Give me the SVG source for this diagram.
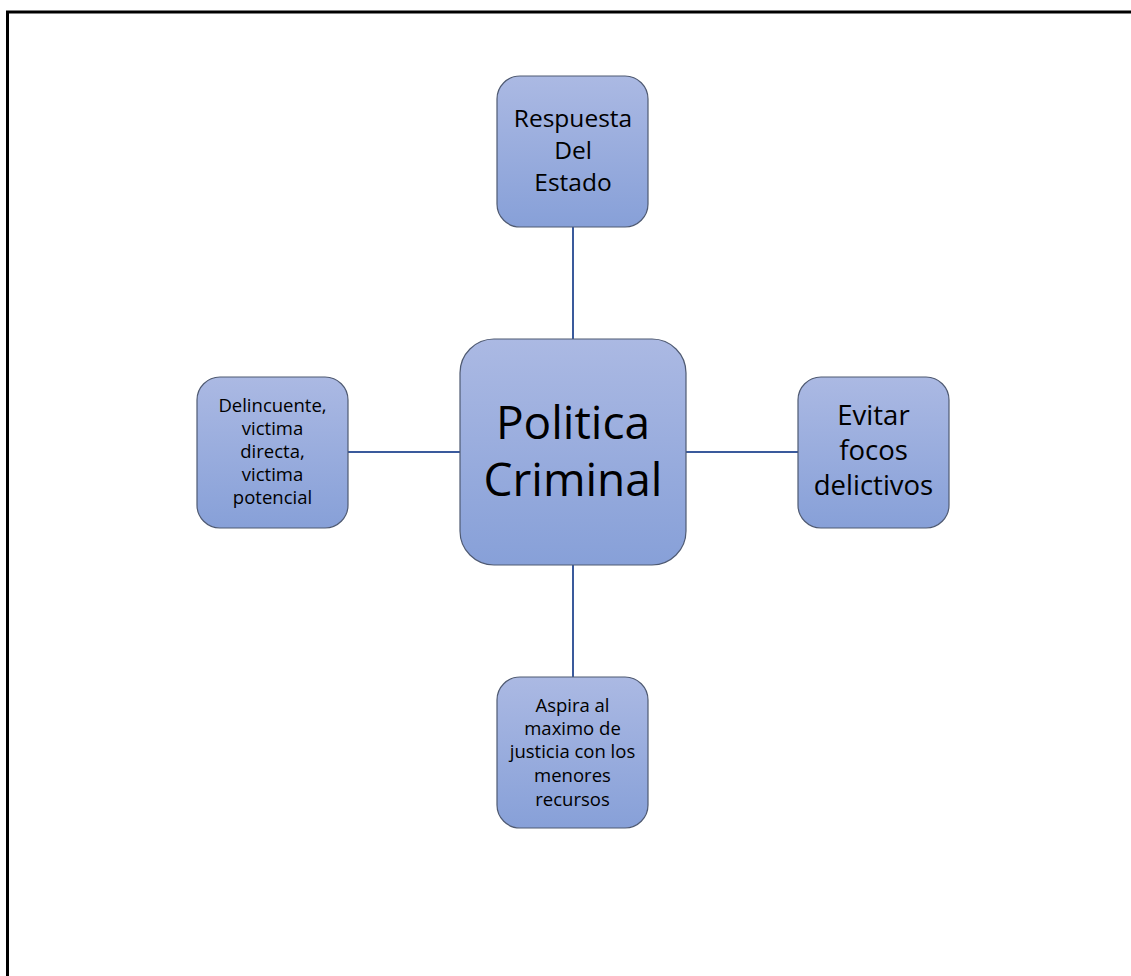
<svg xmlns="http://www.w3.org/2000/svg" width="1131" height="976" viewBox="0 0 1131 976">
  <defs>
    <linearGradient id="g" x1="0" y1="0" x2="0" y2="1">
      <stop offset="0" stop-color="#abb9e3"/>
      <stop offset="1" stop-color="#87a0d8"/>
    </linearGradient>
  </defs>
  <style>
    .box { fill: url(#g); stroke: #4f5a72; stroke-width: 1.2; }
    .t { font-family: "Open Sans", "Liberation Sans", sans-serif; fill: #000; text-anchor: middle; }
    .conn line { stroke: #3a5a9c; stroke-width: 2; }
  </style>
  <rect width="1131" height="976" fill="#fff"/>
  <path d="M7.5 976 V12 H1131" fill="none" stroke="#000" stroke-width="3"/>
  <g id="connectors" class="conn">
    <line x1="573" y1="227" x2="573" y2="339"/>
    <line x1="573" y1="565" x2="573" y2="677"/>
    <line x1="348" y1="452" x2="460" y2="452"/>
    <line x1="686" y1="452" x2="798" y2="452"/>
  </g>
  <g id="center">
    <rect class="box" x="460" y="339" width="226" height="226" rx="34"/>
    <text class="t" font-size="46"><tspan x="573" y="439">Politica</tspan><tspan x="573" y="496">Criminal</tspan></text>
  </g>
  <g id="top">
    <rect class="box" x="497" y="76" width="151" height="151" rx="23"/>
    <text class="t" font-size="24.5"><tspan x="573" y="127">Respuesta</tspan><tspan x="573" y="159">Del</tspan><tspan x="573" y="191">Estado</tspan></text>
  </g>
  <g id="left">
    <rect class="box" x="197" y="377" width="151" height="151" rx="23"/>
    <text class="t" font-size="18.5"><tspan x="272.5" y="412">Delincuente,</tspan><tspan x="272.5" y="435">victima</tspan><tspan x="272.5" y="458">directa,</tspan><tspan x="272.5" y="481">victima</tspan><tspan x="272.5" y="504">potencial</tspan></text>
  </g>
  <g id="right">
    <rect class="box" x="798" y="377" width="151" height="151" rx="23"/>
    <text class="t" font-size="27.5"><tspan x="873.5" y="425">Evitar</tspan><tspan x="873.5" y="460">focos</tspan><tspan x="873.5" y="495">delictivos</tspan></text>
  </g>
  <g id="bottom">
    <rect class="box" x="497" y="677" width="151" height="151" rx="23"/>
    <text class="t" font-size="18.5"><tspan x="572.5" y="712">Aspira al</tspan><tspan x="572.5" y="735">maximo de</tspan><tspan x="572.5" y="758">justicia con los</tspan><tspan x="572.5" y="782">menores</tspan><tspan x="572.5" y="806">recursos</tspan></text>
  </g>
</svg>
